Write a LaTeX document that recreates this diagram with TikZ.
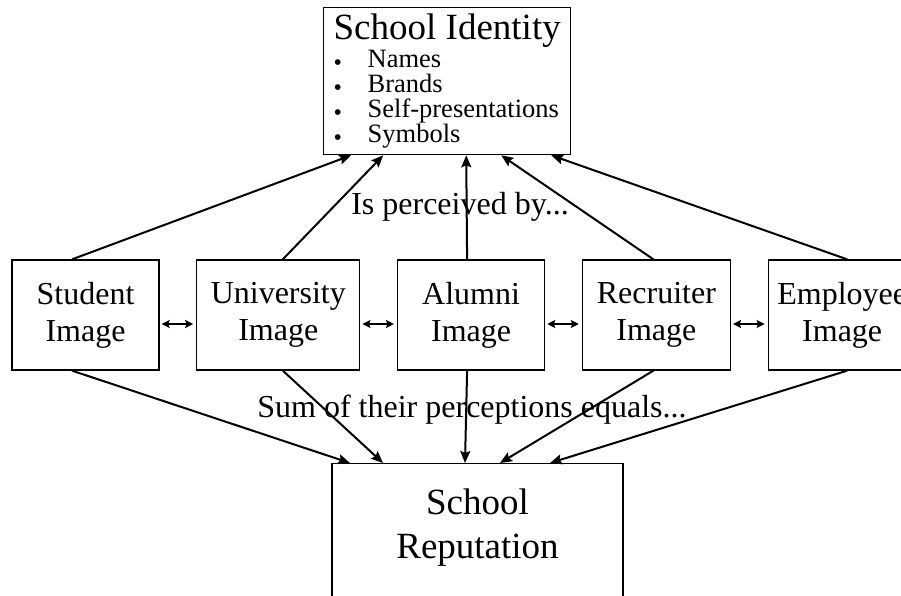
\documentclass[tikz,border=0pt]{standalone}
\usepackage{fontspec}
\setmainfont{Liberation Serif}
\usetikzlibrary{arrows.meta, positioning}
\newcommand\bitem{\makebox[34pt][l]{\raisebox{-3pt}{\fontsize{24}{24}\selectfont\textbullet}}}

\begin{document}
\begin{tikzpicture}[
  x=1pt, y=-1pt,
  box/.style={draw, line width=1.3pt, align=center, inner sep=0pt,
    font=\fontsize{32}{37}\selectfont},
  imgbox/.style={box, minimum width=#1, minimum height=110pt},
  arr/.style={-{Stealth[length=12pt,width=10pt,inset=2pt]}, line width=2pt},
  darr/.style={{Stealth[length=8pt,width=8pt,inset=1.5pt]}-{Stealth[length=8pt,width=8pt,inset=1.5pt]},
    line width=2pt, shorten <=2pt, shorten >=3pt},
  lbl/.style={font=\fontsize{32}{37}\selectfont, inner sep=0pt},
]
\useasboundingbox (0,0) rectangle (901,596);

%% -- identity box on top
\node[box, anchor=north west, minimum width=246pt, minimum height=147pt,
  align=left, inner xsep=10pt, font=\fontsize{26.5}{25}\selectfont]
  (ident) at (323,7) {%
  {\fontsize{37}{37}\selectfont School Identity}\\[1pt]
  \bitem Names\\
  \bitem Brands\\
  \bitem Self-presentations\\
  \bitem Symbols};

%% -- the five images
\node[imgbox=147pt] (stu) at (85.5,315) {Student\\Image};
\node[imgbox=163pt, right=36.5pt of stu] (uni) {University\\Image};
\node[imgbox=147pt, right=36.5pt of uni] (alu) {Alumni\\Image};
\node[imgbox=148pt, right=36.5pt of alu] (rec) {Recruiter\\Image};
\node[imgbox=148pt, right=36.5pt of rec] (emp) {Employee\\Image};

%% -- reputation box at the bottom
\node[box, anchor=north, minimum width=291pt, inner ysep=24.7pt,
  text depth=80pt, font=\fontsize{37}{44}\selectfont]
  (rep) at (477.5,463) {School\\Reputation};

%% -- labels
\node[lbl] (perc) at (460,206.5) {Is perceived by...};
\node[lbl] (sum) at (472,409.5) {Sum of their perceptions equals...};

%% -- arrows up and down
\foreach \n/\s/\t/\b in {stu/-13.5/-96/-127.5, uni/4.5/-64/-94.5,
    alu/-4/19/-12.5, rec/-3/54/22.5, emp/5/104/72.5} {
  \draw[arr] ([xshift=\s pt]\n.north) -- ([xshift=\t pt]ident.south);
  \draw[arr] ([xshift=\s pt]\n.south) -- ([xshift=\b pt]rep.north);
}

%% -- between neighbours
\foreach \a/\b in {stu/uni, uni/alu, alu/rec, rec/emp}
  \draw[darr] ([yshift=-9pt]\a.east) -- ([yshift=-9pt]\b.west);

\end{tikzpicture}
\end{document}
